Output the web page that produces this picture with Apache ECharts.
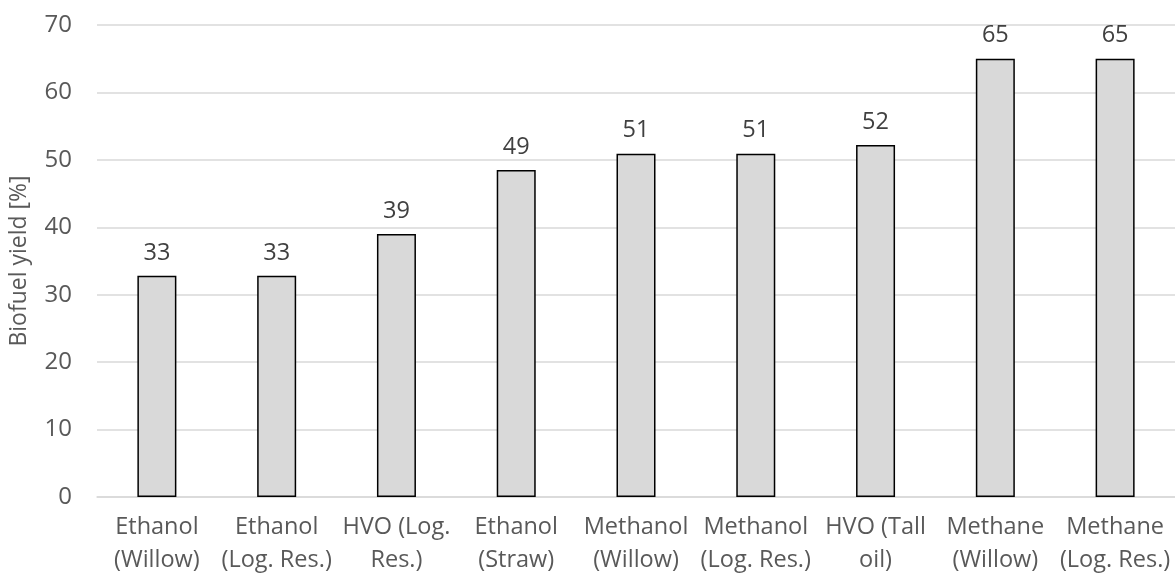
<!DOCTYPE html>
<html>
<head>
<meta charset="utf-8">
<script src="https://cdn.jsdelivr.net/npm/echarts@6/dist/echarts.min.js"></script>
<style>
html,body{margin:0;padding:0;background:#fff;}
#chart{width:1175px;height:577px;}
</style>
</head>
<body>
<div id="chart"></div>
<script>
const categories = [
  "Ethanol\n(Willow)", "Ethanol\n(Log. Res.)", "HVO (Log.\nRes.)", "Ethanol\n(Straw)",
  "Methanol\n(Willow)", "Methanol\n(Log. Res.)", "HVO (Tall\noil)", "Methane\n(Willow)", "Methane\n(Log. Res.)"
];
const yieldValues = [32.8, 32.8, 39.0, 48.5, 50.9, 50.9, 52.2, 65.0, 65.0];
const yTicks = { min: 0, max: 70, interval: 10 };

const font = "'Open Sans', sans-serif";
const chart = echarts.init(document.getElementById('chart'), null, {renderer: 'canvas'});
chart.setOption({
  animation: false,
  backgroundColor: '#ffffff',
  grid: { left: 95, top: 25, width: 1089, height: 472, containLabel: false },
  xAxis: {
    type: 'category',
    data: categories,
    axisLine: { show: true, lineStyle: { color: '#d9d9d9', width: 1.5 } },
    axisTick: { show: false },
    axisLabel: { color: '#595959', fontFamily: font, fontSize: 23.5, lineHeight: 33, margin: 14, interval: 0 }
  },
  yAxis: {
    type: 'value',
    min: yTicks.min, max: yTicks.max, interval: yTicks.interval,
    name: 'Biofuel yield [%]',
    nameLocation: 'middle',
    nameGap: 66,
    nameTextStyle: { color: '#595959', fontFamily: font, fontSize: 23 },
    axisLine: { show: false },
    axisTick: { show: false },
    axisLabel: { color: '#595959', fontFamily: font, fontSize: 24, margin: 25 },
    splitLine: { lineStyle: { color: '#d9d9d9', width: 1.5 } }
  },
  series: [{
    type: 'bar',
    data: yieldValues,
    barWidth: 39,
    itemStyle: { color: '#d9d9d9', borderColor: '#000000', borderWidth: 1.5 },
    label: {
      show: true, position: 'top', distance: 11,
      color: '#404040', fontFamily: font, fontSize: 23.5,
      formatter: p => Math.round(p.value)
    }
  }]
});
</script>
</body>
</html>
